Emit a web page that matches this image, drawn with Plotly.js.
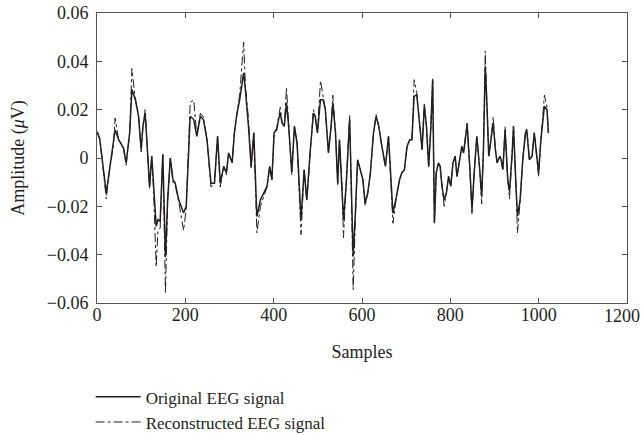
<!DOCTYPE html>
<html>
<head>
<meta charset="utf-8">
<script src="https://cdn.plot.ly/plotly-3.0.1.min.js"></script>
<style>html,body{margin:0;padding:0;background:#fff;}#chart{width:643px;height:435px;}</style>
</head>
<body>
<div id="chart"></div>
<script>
// Sample indices
const samples = [1,6,11,21,26,32,37,41,49,54,60,66,74,79,87,94,100,104,109,115,119,124,128,134,138,143,149,155,160,166,172,177,185,196,202,211,219,226,234,241,249,258,266,273,279,287,293,298,306,311,317,323,332,336,343,349,355,362,370,377,385,391,396,401,407,411,415,419,424,429,434,441,447,453,462,469,475,483,490,494,499,506,512,517,524,530,534,540,545,549,555,558,564,572,575,580,585,590,596,602,607,613,619,626,632,638,645,653,660,666,670,678,685,690,696,702,708,713,718,724,730,736,741,746,751,756,760,764,768,773,777,781,786,791,796,801,806,811,815,821,826,830,838,844,849,854,860,866,871,875,879,883,887,892,897,902,906,912,915,919,924,930,934,940,943,949,952,958,964,970,973,979,985,990,995,1000,1005,1010,1013,1019,1022];

// Original EEG signal amplitude (µV)
const original = [0.0104,0.008,0.0007,-0.0145,-0.008,0.0,0.005,0.0117,0.0076,0.0062,0.0041,-0.002,0.0104,0.0283,0.0241,0.0173,0.0035,0.0131,0.0186,0.0007,-0.0117,0.0007,-0.0117,-0.0283,-0.0255,-0.0262,0.0014,-0.041,-0.017,0.0,-0.009,-0.0104,-0.0173,-0.0228,-0.02,0.0173,0.0159,0.009,0.0173,0.0159,0.0076,-0.0104,-0.0104,0.009,-0.0104,-0.0035,-0.0062,0.0021,-0.002,0.0104,0.0186,0.0241,0.0352,0.0283,0.0131,-0.0035,0.0104,-0.0242,-0.0173,-0.0145,-0.0117,-0.0035,-0.009,0.0104,0.0117,0.0159,0.0186,0.0145,0.0131,0.0228,0.0131,-0.006,0.0131,0.0062,-0.0255,-0.0048,-0.0173,0.0035,0.0186,0.0173,0.0104,0.0241,0.0241,0.02,0.0021,0.0131,0.0228,0.0104,-0.0104,0.0076,-0.0117,-0.0255,-0.0117,0.0159,-0.0062,-0.0407,-0.0228,-0.0007,-0.0048,-0.009,-0.0186,-0.0145,-0.0062,0.0104,0.0173,0.0131,0.0048,-0.0035,0.009,-0.0104,-0.0228,-0.0159,-0.009,-0.0062,-0.0048,0.0048,0.0076,0.0076,0.0255,0.0262,0.0159,0.0035,0.0214,0.0131,-0.0035,0.0131,0.0324,-0.027,-0.0062,-0.002,-0.0035,-0.0117,-0.0173,-0.0145,-0.0076,-0.0117,-0.002,0.0007,-0.0076,-0.0007,0.0048,0.0021,0.0138,-0.0035,-0.0214,-0.0062,0.009,-0.0035,-0.0159,0.0035,0.038,0.0214,0.0007,0.0076,0.0145,0.0035,-0.002,0.0007,-0.0007,-0.0048,0.0117,-0.009,-0.0138,0.0021,0.0131,-0.0131,-0.024,-0.0173,-0.0007,0.0104,0.0117,-0.0007,0.0007,0.0104,0.0021,-0.006,0.0076,0.0173,0.0214,0.02,0.0104];

// Reconstructed EEG signal amplitude (µV)
const reconstructed = [0.011,0.008,0.0005,-0.017,-0.008,0.0,0.005,0.0165,0.0076,0.0062,0.0041,-0.003,0.0104,0.037,0.0241,0.018,0.0025,0.0131,0.020,0.0007,-0.013,0.0007,-0.013,-0.045,-0.030,-0.029,0.0014,-0.056,-0.018,0.0,-0.010,-0.011,-0.018,-0.030,-0.021,0.023,0.024,0.009,0.0185,0.017,0.0076,-0.012,-0.0104,0.009,-0.012,-0.0035,-0.007,0.0021,-0.002,0.0104,0.019,0.026,0.048,0.030,0.016,-0.004,0.0104,-0.031,-0.020,-0.016,-0.012,-0.0035,-0.009,0.0104,0.0125,0.017,0.021,0.0145,0.0131,0.029,0.0131,-0.007,0.0131,0.0062,-0.0317,-0.005,-0.018,0.0035,0.020,0.0173,0.0104,0.032,0.026,0.02,0.0021,0.0131,0.026,0.0104,-0.011,0.0076,-0.012,-0.033,-0.012,0.018,-0.0062,-0.0545,-0.025,-0.0007,-0.0048,-0.009,-0.020,-0.0145,-0.0062,0.0104,0.018,0.0131,0.0048,-0.0035,0.009,-0.011,-0.027,-0.016,-0.009,-0.0062,-0.0048,0.0048,0.0076,0.0076,0.0324,0.027,0.0159,0.0035,0.023,0.0131,-0.004,0.0131,0.033,-0.027,-0.0062,-0.002,-0.0035,-0.0125,-0.020,-0.0145,-0.0076,-0.0117,-0.002,0.0007,-0.0076,-0.0007,0.0048,0.0021,0.0145,-0.004,-0.023,-0.0062,0.009,-0.004,-0.019,0.0035,0.0442,0.022,0.0007,0.0076,0.017,0.0035,-0.002,0.0007,-0.0007,-0.005,0.013,-0.009,-0.017,0.0021,0.0131,-0.0131,-0.031,-0.018,-0.0007,0.0104,0.012,-0.0007,0.0007,0.0104,0.0021,-0.008,0.0076,0.018,0.026,0.021,0.0104];

// x tick positions and labels (the last label is drawn as an annotation so it fits the page edge)
const xTicks = [0,200,400,600,800,1000,1200];
const xTickLabels = ["0","200","400","600","800","1000",""];
const xLastTick = 1200;
const xLastLabel = "1200";
const yTicks = [-0.06,-0.04,-0.02,0,0.02,0.04,0.06];
const yTickLabels = ["\u22120.06","\u22120.04","\u22120.02","0","0.02","0.04","0.06"];

const ink = '#231f20';
const font = 'Liberation Serif, Times New Roman, serif';
const fs = 18;

const traces = [
  {x: samples, y: original, type: 'scatter', mode: 'lines', name: 'Original EEG signal',
   line: {color: ink, width: 1.5, dash: 'solid'}},
  {x: samples, y: reconstructed, type: 'scatter', mode: 'lines', name: 'Reconstructed EEG signal',
   line: {color: ink, width: 1, dash: 'dashdot'}}
];

const axisCommon = {
  showline: true, linecolor: '#555', linewidth: 1, mirror: 'ticks',
  ticks: 'inside', ticklen: 5, tickcolor: '#555', tickwidth: 1,
  showgrid: false, zeroline: false, automargin: false, ticklabeloverflow: 'allow',
  tickfont: {family: font, size: fs, color: ink}
};

const layout = {
  width: 643, height: 435,
  margin: {l: 97, r: 16, t: 13, b: 132},
  paper_bgcolor: '#fff', plot_bgcolor: '#fff',
  font: {family: font, color: ink},
  showlegend: true,
  legend: {x: -0.012, xanchor: 'left', xref: 'paper', y: 0.128, yref: 'container', yanchor: 'top',
           orientation: 'v',
           font: {family: font, size: 17, color: ink}, bgcolor: 'rgba(0,0,0,0)',
           tracegroupgap: 0, itemwidth: 45},
  annotations: [{
    x: xLastTick, xref: 'x', y: 0, yref: 'paper', text: xLastLabel, showarrow: false,
    xanchor: 'right', yanchor: 'top', xshift: 15, yshift: -1,
    font: {family: font, size: fs, color: ink}
  }],
  xaxis: Object.assign({}, axisCommon, {
    range: [0, 1200], tickvals: xTicks, ticktext: xTickLabels, ticklabelstandoff: -5,
    title: {text: 'Samples', font: {family: font, size: fs, color: ink}, standoff: 21}
  }),
  yaxis: Object.assign({}, axisCommon, {
    range: [-0.06, 0.06], tickvals: yTicks, ticktext: yTickLabels, ticklabelstandoff: 4,
    title: {text: 'Amplitude (<i>μ</i>V)', font: {family: font, size: fs, color: ink}, standoff: 17}
  })
};

Plotly.newPlot('chart', traces, layout, {displayModeBar: false, staticPlot: true});
</script>
</body>
</html>
